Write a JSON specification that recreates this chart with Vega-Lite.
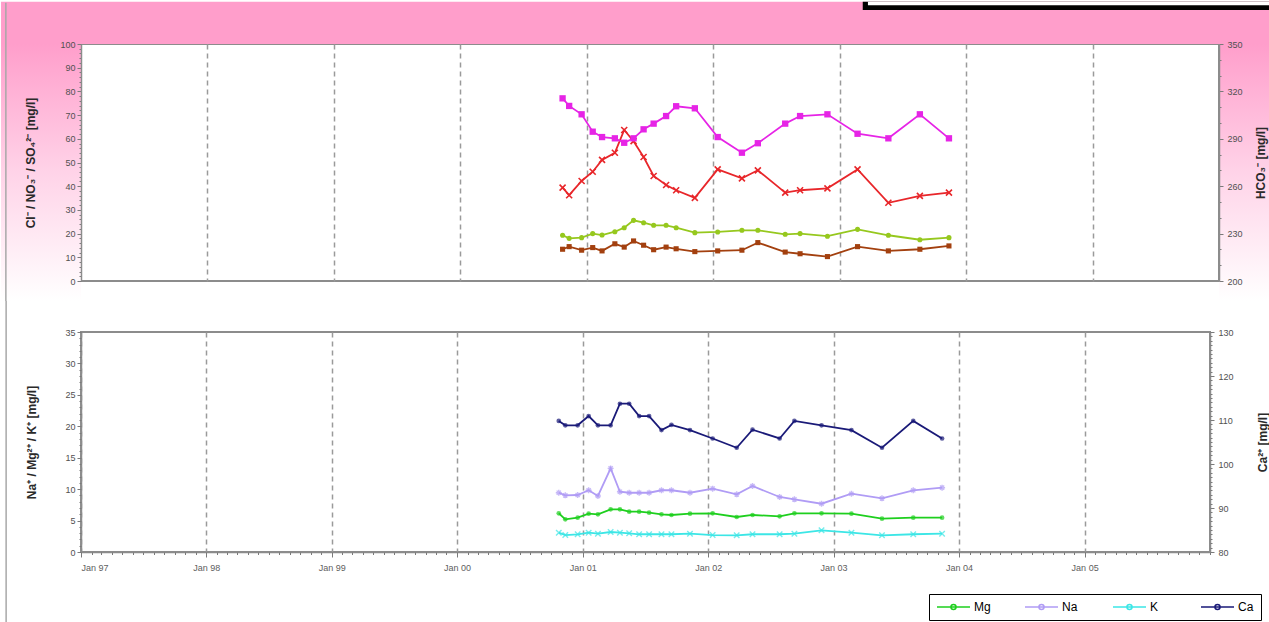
{
  "$schema": "https://vega.github.io/schema/vega-lite/v6.json",
  "autosize": {"type": "pad"},
  "padding": 0,
  "background": "white",
  "bounds": "flush",
  "spacing": 51,
  "resolve": {"scale": {"color": "independent"}, "legend": {"color": "independent"}},
  "config": {
    "font": "Liberation Sans",
    "view": {"stroke": "#8c8c8c", "strokeWidth": 2, "fill": "white"},
    "axis": {
      "labelFont": "Liberation Sans", "labelFontSize": 9, "labelColor": "#505050",
      "titleFont": "Liberation Sans", "titleFontSize": 12, "titleFontWeight": "bold", "titleColor": "#2a2a2a",
      "domainColor": "#8c8c8c", "domainWidth": 1.5,
      "tickColor": "#7a7a7a", "tickWidth": 1, "tickSize": 4, "labelPadding": 2,
      "gridColor": "#9a9a9a", "gridDash": [5, 4], "gridWidth": 1.5, "grid": false
    }
  },
  "datasets": {
    "chem": [
      {"date": "2000-10-23", "HCO3": 315.6, "NO3": 39.4, "SO4": 19.3, "Cl": 13.4, "Mg": 6.16, "Na": 9.43, "K": 3.07, "Ca": 109.8},
      {"date": "2000-11-11", "HCO3": 310.8, "NO3": 36.2, "SO4": 18.0, "Cl": 14.5, "Mg": 5.2, "Na": 9.02, "K": 2.7, "Ca": 108.8},
      {"date": "2000-12-17", "HCO3": 305.5, "NO3": 42.2, "SO4": 18.3, "Cl": 13.0, "Mg": 5.46, "Na": 9.07, "K": 2.82, "Ca": 108.8},
      {"date": "2001-01-18", "HCO3": 294.5, "NO3": 46.1, "SO4": 20.0, "Cl": 14.1, "Mg": 6.09, "Na": 9.82, "K": 3.07, "Ca": 110.9},
      {"date": "2001-02-14", "HCO3": 291.1, "NO3": 51.1, "SO4": 19.4, "Cl": 12.7, "Mg": 6.0, "Na": 8.91, "K": 2.91, "Ca": 108.8},
      {"date": "2001-03-23", "HCO3": 290.3, "NO3": 54.1, "SO4": 20.8, "Cl": 15.7, "Mg": 6.79, "Na": 13.3, "K": 3.18, "Ca": 108.8},
      {"date": "2001-04-19", "HCO3": 287.5, "NO3": 63.7, "SO4": 22.5, "Cl": 14.3, "Mg": 6.79, "Na": 9.59, "K": 3.07, "Ca": 113.7},
      {"date": "2001-05-16", "HCO3": 290.3, "NO3": 59.0, "SO4": 25.6, "Cl": 16.9, "Mg": 6.41, "Na": 9.43, "K": 2.97, "Ca": 113.7},
      {"date": "2001-06-14", "HCO3": 296.0, "NO3": 52.3, "SO4": 24.6, "Cl": 15.1, "Mg": 6.41, "Na": 9.43, "K": 2.82, "Ca": 110.9},
      {"date": "2001-07-13", "HCO3": 299.6, "NO3": 44.3, "SO4": 23.5, "Cl": 13.2, "Mg": 6.25, "Na": 9.43, "K": 2.82, "Ca": 110.9},
      {"date": "2001-08-18", "HCO3": 304.4, "NO3": 40.5, "SO4": 23.5, "Cl": 14.3, "Mg": 6.0, "Na": 9.82, "K": 2.82, "Ca": 107.7},
      {"date": "2001-09-16", "HCO3": 310.6, "NO3": 38.3, "SO4": 22.5, "Cl": 13.6, "Mg": 5.89, "Na": 9.82, "K": 2.82, "Ca": 108.9},
      {"date": "2001-11-09", "HCO3": 309.3, "NO3": 35.1, "SO4": 20.4, "Cl": 12.4, "Mg": 6.09, "Na": 9.43, "K": 2.91, "Ca": 107.7},
      {"date": "2002-01-14", "HCO3": 291.1, "NO3": 47.1, "SO4": 20.7, "Cl": 12.7, "Mg": 6.16, "Na": 10.07, "K": 2.7, "Ca": 105.8},
      {"date": "2002-03-25", "HCO3": 281.2, "NO3": 43.3, "SO4": 21.4, "Cl": 13.0, "Mg": 5.57, "Na": 9.18, "K": 2.66, "Ca": 103.7},
      {"date": "2002-05-10", "HCO3": 287.2, "NO3": 46.7, "SO4": 21.4, "Cl": 16.2, "Mg": 5.89, "Na": 10.5, "K": 2.82, "Ca": 107.8},
      {"date": "2002-07-28", "HCO3": 299.6, "NO3": 37.3, "SO4": 19.7, "Cl": 12.2, "Mg": 5.68, "Na": 8.75, "K": 2.82, "Ca": 105.8},
      {"date": "2002-09-09", "HCO3": 304.4, "NO3": 38.3, "SO4": 20.0, "Cl": 11.5, "Mg": 6.16, "Na": 8.38, "K": 2.91, "Ca": 109.8},
      {"date": "2002-11-27", "HCO3": 305.5, "NO3": 39.1, "SO4": 18.9, "Cl": 10.3, "Mg": 6.16, "Na": 7.68, "K": 3.45, "Ca": 108.8},
      {"date": "2003-02-22", "HCO3": 293.2, "NO3": 47.1, "SO4": 21.8, "Cl": 14.5, "Mg": 6.09, "Na": 9.27, "K": 3.07, "Ca": 107.7},
      {"date": "2003-05-22", "HCO3": 290.3, "NO3": 33.0, "SO4": 19.3, "Cl": 12.7, "Mg": 5.3, "Na": 8.54, "K": 2.66, "Ca": 103.7},
      {"date": "2003-08-21", "HCO3": 305.5, "NO3": 35.9, "SO4": 17.4, "Cl": 13.4, "Mg": 5.46, "Na": 9.82, "K": 2.82, "Ca": 109.8},
      {"date": "2003-11-13", "HCO3": 290.3, "NO3": 37.3, "SO4": 18.3, "Cl": 14.8, "Mg": 5.46, "Na": 10.23, "K": 2.91, "Ca": 105.8}
    ]
  },
  "vconcat": [
    {
      "width": 1138,
      "height": 237,
      "data": {"name": "chem"},
      "resolve": {"scale": {"y": "independent"}, "axis": {"x": "independent", "y": "independent"}},
      "layer": [
        {
          "data": {"values": [{}]},
          "mark": {"type": "rect", "fill": "#ff9ecb", "clip": false},
          "encoding": {
            "x": {"datum": {"year": 1996, "month": 5, "date": 15}, "type": "temporal",
                  "scale": {"domain": [{"year": 1997, "month": 1, "date": 1}, {"year": 2006, "month": 1, "date": 1}]}, "axis": null},
            "x2": {"datum": {"year": 2006, "month": 5, "date": 28}},
            "y": {"datum": 100, "type": "quantitative", "scale": {"domain": [0, 100]},
                  "axis": {"orient": "left", "tickCount": 50, "labels": false, "domain": false, "grid": false, "tickSize": 2, "title": null, "zindex": 1}},
            "y2": {"datum": 117.8}
          }
        },
        {
          "data": {"values": [{}]},
          "mark": {"type": "rect", "clip": false,
                   "fill": {"gradient": "linear", "x1": 0, "y1": 0, "x2": 0, "y2": 1,
                            "stops": [{"offset": 0, "color": "#ff9ecb"}, {"offset": 0.5, "color": "#ffd3e8"}, {"offset": 1, "color": "#ffffff"}]}},
          "encoding": {
            "x": {"datum": {"year": 1996, "month": 5, "date": 15}, "type": "temporal",
                  "scale": {"domain": [{"year": 1997, "month": 1, "date": 1}, {"year": 2006, "month": 1, "date": 1}]}, "axis": null},
            "x2": {"datum": {"year": 1997, "month": 1, "date": 1}},
            "y": {"datum": 100, "type": "quantitative", "scale": {"domain": [0, 100]}, "axis": null},
            "y2": {"datum": -8.4}
          }
        },
        {
          "data": {"values": [{}]},
          "mark": {"type": "rect", "clip": false,
                   "fill": {"gradient": "linear", "x1": 0, "y1": 0, "x2": 0, "y2": 1,
                            "stops": [{"offset": 0, "color": "#ff9ecb"}, {"offset": 0.5, "color": "#ffd3e8"}, {"offset": 1, "color": "#ffffff"}]}},
          "encoding": {
            "x": {"datum": {"year": 2006, "month": 1, "date": 1}, "type": "temporal",
                  "scale": {"domain": [{"year": 1997, "month": 1, "date": 1}, {"year": 2006, "month": 1, "date": 1}]}, "axis": null},
            "x2": {"datum": {"year": 2006, "month": 5, "date": 28}},
            "y": {"datum": 350, "type": "quantitative", "scale": {"domain": [200, 350]},
                  "axis": {"orient": "right", "tickCount": 15, "labels": false, "domain": false, "grid": false, "tickSize": 2, "title": null, "zindex": 1}},
            "y2": {"datum": 187.4}
          }
        },
        {
          "data": {"values": [{}]},
          "mark": {"type": "rule", "color": "#a8a8a8", "strokeWidth": 1.5, "clip": false},
          "encoding": {
            "x": {"datum": {"year": 1996, "month": 5, "date": 29}, "type": "temporal",
                  "scale": {"domain": [{"year": 1997, "month": 1, "date": 1}, {"year": 2006, "month": 1, "date": 1}]}, "axis": null},
            "y": {"datum": 117.4, "type": "quantitative", "scale": {"domain": [0, 100]}, "axis": null},
            "y2": {"datum": -8.4}
          }
        },
        {
          "data": {"values": [{}]},
          "mark": {"type": "rect", "fill": "#000000", "clip": false},
          "encoding": {
            "x": {"datum": {"year": 2003, "month": 3, "date": 9}, "type": "temporal",
                  "scale": {"domain": [{"year": 1997, "month": 1, "date": 1}, {"year": 2006, "month": 1, "date": 1}]}, "axis": null},
            "x2": {"datum": {"year": 2006, "month": 5, "date": 28}},
            "y": {"datum": 114.3, "type": "quantitative", "scale": {"domain": [0, 100]}, "axis": null},
            "y2": {"datum": 117.8}
          }
        },
        {
          "data": {"values": [{}]},
          "mark": {"type": "rect", "fill": "#ffffff", "clip": false},
          "encoding": {
            "x": {"datum": {"year": 2003, "month": 3, "date": 24}, "type": "temporal",
                  "scale": {"domain": [{"year": 1997, "month": 1, "date": 1}, {"year": 2006, "month": 1, "date": 1}]}, "axis": null},
            "x2": {"datum": {"year": 2006, "month": 5, "date": 28}},
            "y": {"datum": 116.3, "type": "quantitative", "scale": {"domain": [0, 100]}, "axis": null},
            "y2": {"datum": 117.8}
          }
        },
        {
          "mark": {"type": "line", "color": "#a3400f", "strokeWidth": 1.8,
                   "point": {"shape": "square", "filled": true, "size": 26, "color": "#a3400f"}},
          "encoding": {
            "x": {"field": "date", "type": "temporal",
                  "scale": {"domain": [{"year": 1997, "month": 1, "date": 1}, {"year": 2006, "month": 1, "date": 1}]},
                  "axis": {"orient": "bottom", "grid": true, "labels": false, "ticks": false, "domain": false, "title": null, "zindex": 0,
                           "values": [{"year": 1998, "month": 1, "date": 1}, {"year": 1999, "month": 1, "date": 1}, {"year": 2000, "month": 1, "date": 1},
                                      {"year": 2001, "month": 1, "date": 1}, {"year": 2002, "month": 1, "date": 1}, {"year": 2003, "month": 1, "date": 1},
                                      {"year": 2004, "month": 1, "date": 1}, {"year": 2005, "month": 1, "date": 1}]}},
            "y": {"field": "Cl", "type": "quantitative", "scale": {"domain": [0, 100]}, "axis": null}
          }
        },
        {
          "mark": {"type": "line", "color": "#96c81e", "strokeWidth": 1.8,
                   "point": {"shape": "circle", "filled": true, "size": 26, "color": "#96c81e"}},
          "encoding": {
            "x": {"field": "date", "type": "temporal",
                  "scale": {"domain": [{"year": 1997, "month": 1, "date": 1}, {"year": 2006, "month": 1, "date": 1}]}, "axis": null},
            "y": {"field": "SO4", "type": "quantitative", "scale": {"domain": [0, 100]}, "axis": null}
          }
        },
        {
          "mark": {"type": "line", "color": "#e8262a", "strokeWidth": 1.8,
                   "point": {"shape": "M-1,-1L1,1M-1,1L1,-1", "filled": false, "size": 36, "strokeWidth": 1.6, "color": "#e8262a"}},
          "encoding": {
            "x": {"field": "date", "type": "temporal",
                  "scale": {"domain": [{"year": 1997, "month": 1, "date": 1}, {"year": 2006, "month": 1, "date": 1}]}, "axis": null},
            "y": {"field": "NO3", "type": "quantitative", "scale": {"domain": [0, 100]},
                  "axis": {"orient": "left", "values": [0, 10, 20, 30, 40, 50, 60, 70, 80, 90, 100], "title": "Cl⁻ / NO₃⁻ / SO₄²⁻ [mg/l]",
                           "titlePadding": 22, "zindex": 1}}
          }
        },
        {
          "mark": {"type": "line", "color": "#e624e6", "strokeWidth": 1.8,
                   "point": {"shape": "square", "filled": true, "size": 40, "color": "#e624e6"}},
          "encoding": {
            "x": {"field": "date", "type": "temporal",
                  "scale": {"domain": [{"year": 1997, "month": 1, "date": 1}, {"year": 2006, "month": 1, "date": 1}]}, "axis": null},
            "y": {"field": "HCO3", "type": "quantitative", "scale": {"domain": [200, 350]},
                  "axis": {"orient": "right", "values": [200, 230, 260, 290, 320, 350], "title": "HCO₃⁻ [mg/l]",
                           "titleAngle": 270, "titleBaseline": "top", "titlePadding": 13, "labelPadding": 4, "zindex": 1}}
          }
        }
      ]
    },
    {
      "width": 1129,
      "height": 220,
      "data": {"name": "chem"},
      "resolve": {"scale": {"y": "independent"}, "axis": {"x": "independent", "y": "independent"}},
      "layer": [
        {
          "data": {"values": [{}]},
          "mark": {"type": "rule", "color": "#a8a8a8", "strokeWidth": 1.5, "clip": false},
          "encoding": {
            "x": {"datum": {"year": 1996, "month": 5, "date": 28}, "type": "temporal",
                  "scale": {"domain": [{"year": 1997, "month": 1, "date": 1}, {"year": 2006, "month": 1, "date": 1}]}, "axis": null},
            "y": {"datum": 39.93, "type": "quantitative", "scale": {"domain": [0, 35]}, "axis": null},
            "y2": {"datum": -11.2}
          }
        },
        {
          "transform": [{"fold": ["Mg", "Na", "K"], "as": ["ion", "conc"]}],
          "mark": {"type": "line", "strokeWidth": 1.8},
          "encoding": {
            "x": {"field": "date", "type": "temporal",
                  "scale": {"domain": [{"year": 1997, "month": 1, "date": 1}, {"year": 2006, "month": 1, "date": 1}]},
                  "axis": {"orient": "bottom", "grid": true, "format": "%b %y", "title": null, "tickSize": 5, "labelPadding": 6,
                           "labelColor": "#606060", "zindex": 0,
                           "values": [{"year": 1997, "month": 1, "date": 1}, {"year": 1998, "month": 1, "date": 1}, {"year": 1999, "month": 1, "date": 1},
                                      {"year": 2000, "month": 1, "date": 1}, {"year": 2001, "month": 1, "date": 1}, {"year": 2002, "month": 1, "date": 1},
                                      {"year": 2003, "month": 1, "date": 1}, {"year": 2004, "month": 1, "date": 1}, {"year": 2005, "month": 1, "date": 1}]}},
            "y": {"field": "conc", "type": "quantitative", "scale": {"domain": [0, 35]},
                  "axis": {"orient": "left", "values": [0, 5, 10, 15, 20, 25, 30, 35], "title": "Na⁺ / Mg²⁺ / K⁺ [mg/l]", "titlePadding": 26}},
            "color": {
              "field": "ion", "type": "nominal",
              "scale": {"domain": ["Mg", "Na", "K", "Ca"], "range": ["#1ecf1e", "#b09cf5", "#3ce6e6", "#1a1a78"]},
              "legend": {
                "orient": "none", "legendX": 848, "legendY": 262, "direction": "horizontal", "title": null,
                "symbolType": "M-1,0L5.6,0M1.8,0A0.5,0.5,0,1,1,2.8,0A0.5,0.5,0,1,1,1.8,0",
                "symbolSize": 100, "symbolStrokeWidth": 1.6,
                "labelFont": "Liberation Sans", "labelFontSize": 12, "labelColor": "#000000", "labelOffset": 26,
                "columnPadding": 30, "gridAlign": "all", "padding": 7,
                "strokeColor": "#000000", "fillColor": "#ffffff"
              }
            }
          }
        },
        {
          "transform": [{"fold": ["Ca"], "as": ["ion", "conc"]}],
          "mark": {"type": "line", "strokeWidth": 1.8},
          "encoding": {
            "x": {"field": "date", "type": "temporal",
                  "scale": {"domain": [{"year": 1997, "month": 1, "date": 1}, {"year": 2006, "month": 1, "date": 1}]}, "axis": null},
            "y": {"field": "conc", "type": "quantitative", "scale": {"domain": [80, 130]},
                  "axis": {"orient": "right", "values": [80, 90, 100, 110, 120, 130], "title": "Ca²⁺ [mg/l]",
                           "titleAngle": 270, "titleBaseline": "top", "titlePadding": 24, "labelPadding": 4}},
            "color": {"field": "ion", "type": "nominal",
                      "scale": {"domain": ["Mg", "Na", "K", "Ca"], "range": ["#1ecf1e", "#b09cf5", "#3ce6e6", "#1a1a78"]}}
          }
        },
        {
          "mark": {"type": "point", "shape": "circle", "filled": true, "size": 22, "color": "#1ecf1e"},
          "encoding": {
            "x": {"field": "date", "type": "temporal",
                  "scale": {"domain": [{"year": 1997, "month": 1, "date": 1}, {"year": 2006, "month": 1, "date": 1}]}, "axis": null},
            "y": {"field": "Mg", "type": "quantitative", "scale": {"domain": [0, 35]},
                  "axis": {"orient": "left", "tickCount": 35, "labels": false, "domain": false, "tickSize": 2, "title": null}}
          }
        },
        {
          "mark": {"type": "point", "shape": "M-1,0L1,0M0,-1L0,1M-0.7,-0.7L0.7,0.7M-0.7,0.7L0.7,-0.7", "filled": false, "size": 36, "strokeWidth": 1.4, "color": "#b09cf5"},
          "encoding": {
            "x": {"field": "date", "type": "temporal",
                  "scale": {"domain": [{"year": 1997, "month": 1, "date": 1}, {"year": 2006, "month": 1, "date": 1}]},
                  "axis": {"orient": "bottom", "tickCount": {"interval": "month", "step": 1}, "labels": false, "domain": false, "grid": false, "tickSize": 2.5, "title": null}},
            "y": {"field": "Na", "type": "quantitative", "scale": {"domain": [0, 35]}, "axis": null}
          }
        },
        {
          "mark": {"type": "point", "shape": "M-1,-1L1,1M-1,1L1,-1", "filled": false, "size": 30, "strokeWidth": 1.4, "color": "#3ce6e6"},
          "encoding": {
            "x": {"field": "date", "type": "temporal",
                  "scale": {"domain": [{"year": 1997, "month": 1, "date": 1}, {"year": 2006, "month": 1, "date": 1}]}, "axis": null},
            "y": {"field": "K", "type": "quantitative", "scale": {"domain": [0, 35]}, "axis": null}
          }
        },
        {
          "mark": {"type": "point", "shape": "circle", "filled": true, "size": 22, "color": "#1a1a78"},
          "encoding": {
            "x": {"field": "date", "type": "temporal",
                  "scale": {"domain": [{"year": 1997, "month": 1, "date": 1}, {"year": 2006, "month": 1, "date": 1}]}, "axis": null},
            "y": {"field": "Ca", "type": "quantitative", "scale": {"domain": [80, 130]},
                  "axis": {"orient": "right", "tickCount": 50, "labels": false, "domain": false, "tickSize": 2, "title": null}}
          }
        }
      ]
    }
  ]
}
